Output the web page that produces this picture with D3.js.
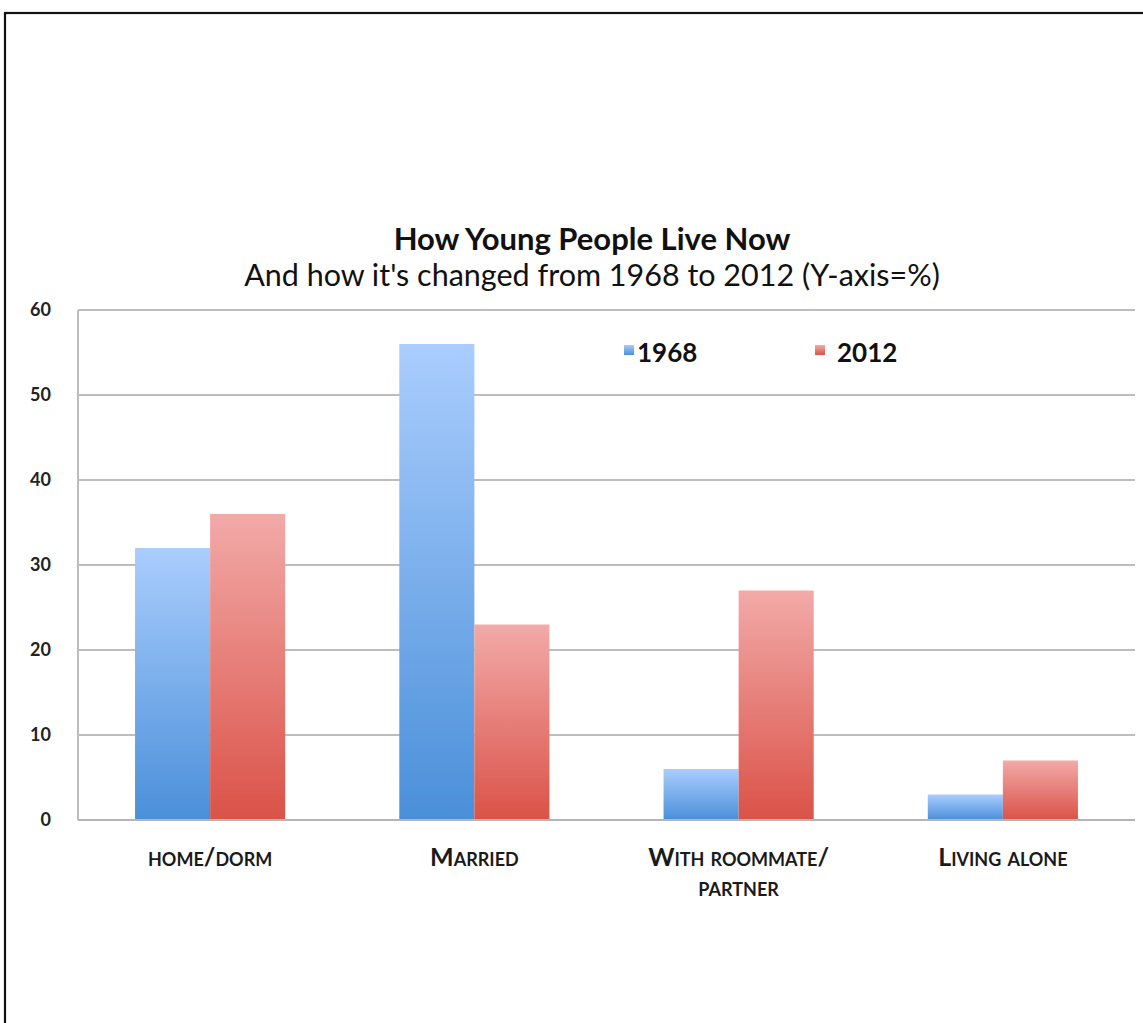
<!DOCTYPE html>
<html>
<head>
<meta charset="utf-8">
<script src="https://cdn.jsdelivr.net/npm/d3@7/dist/d3.min.js"></script>
<style>
  html, body { margin: 0; padding: 0; background: #fff; }
  svg { display: block; }
  text { font-family: Lato, "Open Sans", "DejaVu Sans", sans-serif; }
</style>
</head>
<body>
<svg id="chart" width="1143" height="1023"></svg>
<script>
// Living arrangements of young people, percent
const categories = ["home/dorm", "Married", "With roommate/ partner", "Living alone"];
const categoryLines = [["home/dorm"], ["Married"], ["With roommate/", "partner"], ["Living alone"]];
const years = ["1968", "2012"];
const values1968 = [32, 56, 6, 3];
const values2012 = [36, 23, 27, 7];
const yTicks = [0, 10, 20, 30, 40, 50, 60];
const titleText = "How Young People Live Now";
const subtitleText = "And how it's changed from 1968 to 2012 (Y-axis=%)";

const seriesValues = [values1968, values2012];
const palette = {
  "1968": { top: "#aacdfd", bottom: "#4a8fd9" },
  "2012": { top: "#f2aaa8", bottom: "#da5248" }
};

const svg = d3.select("#chart");
const W = 1143, H = 1023;

// outer frame running off the page to the right and bottom
svg.append("rect")
  .attr("x", 5).attr("y", 13)
  .attr("width", W + 20).attr("height", H + 20)
  .attr("fill", "none").attr("stroke", "#111").attr("stroke-width", 2.2);

const plot = { left: 78, right: 1135, top: 310, bottom: 820 };

const x = d3.scaleBand().domain(categories).range([plot.left, plot.right]).paddingInner(0).paddingOuter(0);
const xInner = d3.scaleBand().domain(years).range([0, x.bandwidth()]).paddingInner(0).paddingOuter(0.76);
const y = d3.scaleLinear().domain([0, 60]).range([plot.bottom, plot.top]);

// gradients, one per series, light at the top of each bar
const defs = svg.append("defs");
years.forEach(yr => {
  const g = defs.append("linearGradient").attr("id", "grad" + yr)
    .attr("x1", 0).attr("y1", 0).attr("x2", 0).attr("y2", 1);
  g.append("stop").attr("offset", "0%").attr("stop-color", palette[yr].top);
  g.append("stop").attr("offset", "100%").attr("stop-color", palette[yr].bottom);
});
const soft = defs.append("filter").attr("id", "soft").attr("x", "-5%").attr("y", "-5%").attr("width", "110%").attr("height", "110%");
soft.append("feGaussianBlur").attr("stdDeviation", 0.7);

// gridlines
svg.append("g")
  .selectAll("line").data(yTicks.filter(t => t > 0)).join("line")
  .attr("x1", plot.left).attr("x2", plot.right)
  .attr("y1", d => y(d)).attr("y2", d => y(d))
  .attr("stroke", "#bdbdbd").attr("stroke-width", 2);

// left plot edge
svg.append("line")
  .attr("x1", plot.left).attr("x2", plot.left)
  .attr("y1", plot.top).attr("y2", plot.bottom)
  .attr("stroke", "#bdbdbd").attr("stroke-width", 2);

// y axis labels
const yAxis = d3.axisLeft(y).tickValues(yTicks).tickSize(0).tickPadding(0);
const yG = svg.append("g").attr("transform", `translate(51,0)`).call(yAxis);
yG.select(".domain").remove();
yG.selectAll("text")
  .attr("font-size", 18).attr("font-weight", 700).attr("fill", "#222")
  .attr("font-family", "Lato, 'Open Sans', sans-serif");

// bars
const barsG = svg.append("g");
categories.forEach((cat, i) => {
  years.forEach((yr, s) => {
    const v = seriesValues[s][i];
    barsG.append("rect")
      .attr("x", x(cat) + xInner(yr))
      .attr("y", y(v))
      .attr("width", xInner.bandwidth())
      .attr("height", y(0) - y(v))
      .attr("fill", `url(#grad${yr})`)
      .attr("filter", "url(#soft)");
  });
});

// baseline
svg.append("line")
  .attr("x1", plot.left).attr("x2", plot.right)
  .attr("y1", y(0)).attr("y2", y(0))
  .attr("stroke", "#b5b5b5").attr("stroke-width", 2);

// category labels (small caps)
const xl = svg.append("g");
categories.forEach((cat, i) => {
  const cx = x(cat) + x.bandwidth() / 2;
  const t = xl.append("text")
    .attr("x", cx)
    .attr("y", 866)
    .attr("text-anchor", "middle")
    .attr("font-size", 25).attr("font-weight", 700)
    .attr("fill", "#1a1a1a")
    .style("font-variant", "small-caps");
  categoryLines[i].forEach((line, k) => {
    t.append("tspan").attr("x", cx).attr("dy", k === 0 ? 0 : 30).text(line);
  });
});

// title
svg.append("text")
  .attr("x", 592).attr("y", 250).attr("text-anchor", "middle")
  .attr("font-size", 31).attr("font-weight", 700).attr("fill", "#111")
  .text(titleText);
svg.append("text")
  .attr("x", 592).attr("y", 286).attr("text-anchor", "middle")
  .attr("font-size", 30.5).attr("fill", "#111")
  .text(subtitleText);

// legend
const legendPos = [{ sx: 624, tx: 637 }, { sx: 815, tx: 837 }];
years.forEach((yr, s) => {
  svg.append("rect")
    .attr("x", legendPos[s].sx).attr("y", 345).attr("width", 10).attr("height", 10)
    .attr("fill", `url(#grad${yr})`);
  svg.append("text")
    .attr("x", legendPos[s].tx).attr("y", 362)
    .attr("font-size", 26).attr("font-weight", 700).attr("fill", "#111")
    .text(yr);
});
</script>
</body>
</html>
